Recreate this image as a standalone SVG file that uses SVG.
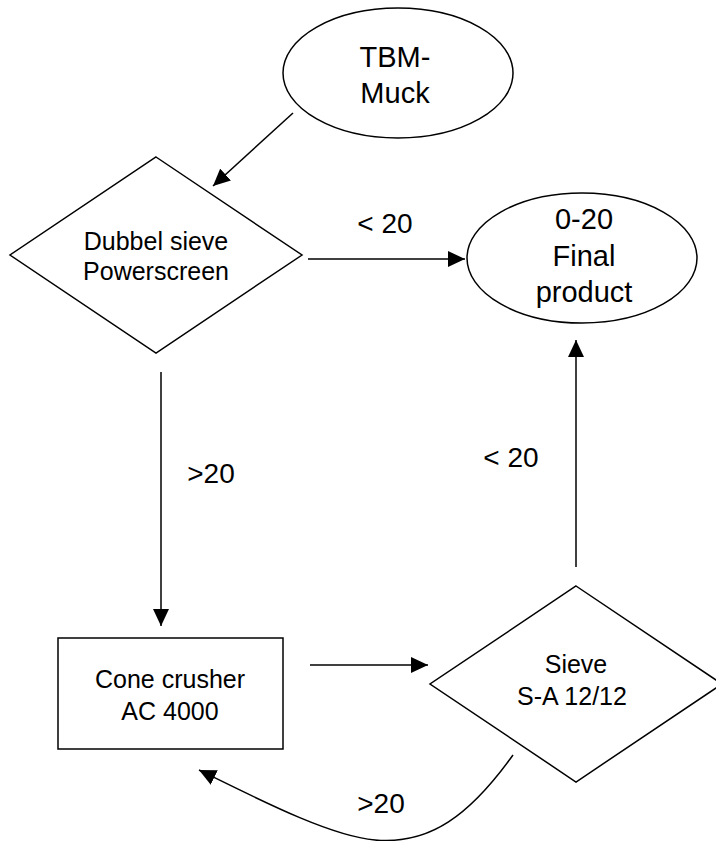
<svg xmlns="http://www.w3.org/2000/svg" width="716" height="841" viewBox="0 0 716 841">
<style>
.s{fill:#fff;stroke:#000;stroke-width:1.5}
.c{fill:none;stroke:#000;stroke-width:1.5}
text{font-family:"Liberation Sans",Arial,sans-serif;fill:#000;text-anchor:middle}
.big{font-size:29px}
.mid{font-size:25px}
.lbl{font-size:28px}
</style>
<defs>
<marker id="ah" markerUnits="userSpaceOnUse" markerWidth="18" markerHeight="16" refX="17" refY="8" orient="auto">
<path d="M0,0 L17,8 L0,16 z" fill="#000"/>
</marker>
</defs>
<rect width="716" height="841" fill="#fff"/>
<g id="connectors">
<line class="c" x1="293" y1="113" x2="213" y2="186" marker-end="url(#ah)"/>
<line class="c" x1="308" y1="259" x2="465" y2="259" marker-end="url(#ah)"/>
<line class="c" x1="161" y1="372" x2="161" y2="626" marker-end="url(#ah)"/>
<line class="c" x1="310" y1="665" x2="428" y2="665" marker-end="url(#ah)"/>
<line class="c" x1="576" y1="567" x2="576" y2="340" marker-end="url(#ah)"/>
<path class="c" d="M513,755 C470,815 430,845 375,840 C330,836 260,800 199,770" marker-end="url(#ah)"/>
<text class="lbl" x="385" y="233">&lt; 20</text>
<text class="lbl" x="211" y="483">&gt;20</text>
<text class="lbl" x="511" y="467">&lt; 20</text>
<text class="lbl" x="381" y="813">&gt;20</text>
</g>
<g id="tbm">
<ellipse class="s" cx="398" cy="73" rx="115" ry="65"/>
<text class="big" x="395" y="67">TBM-</text>
<text class="big" x="395" y="103">Muck</text>
</g>
<g id="dubbel">
<polygon class="s" points="156,157 302,255 156,353 10,255"/>
<text class="mid" x="156" y="250">Dubbel sieve</text>
<text class="mid" x="156" y="280">Powerscreen</text>
</g>
<g id="final">
<ellipse class="s" cx="582" cy="258" rx="115" ry="65"/>
<text class="big" x="584" y="229">0-20</text>
<text class="big" x="584" y="266">Final</text>
<text class="big" x="584" y="302">product</text>
</g>
<g id="cone">
<rect class="s" x="58" y="638" width="225" height="111"/>
<text class="mid" x="170" y="688">Cone crusher</text>
<text class="mid" x="170" y="720">AC 4000</text>
</g>
<g id="sieve">
<polygon class="s" points="576,586 722,684 576,782 430,684"/>
<text class="mid" x="576" y="673">Sieve</text>
<text class="mid" x="572" y="705">S-A 12/12</text>
</g>
</svg>
